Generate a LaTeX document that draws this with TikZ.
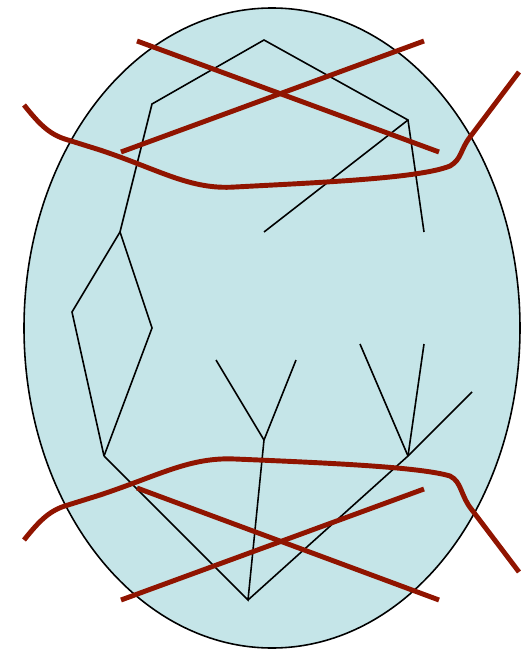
\documentclass[tikz,border=0pt]{standalone}
\usepackage{xcolor}
\definecolor{cellblue}{HTML}{C5E5E8}
\definecolor{cutred}{HTML}{901400}

\begin{document}
\begin{tikzpicture}[
  x=0.02cm, y=-0.02cm,
  edge/.style={draw=black, line width=0.9pt},
  cut/.style={draw=cutred, line width=2.8pt}
]
  \useasboundingbox (0,0) rectangle (521,649);
  \draw[fill=cellblue, line width=0.9pt] (272,328) ellipse [x radius=248, y radius=320];

  % vertices of the tree
  \coordinate (top) at (264,40);
  \coordinate (ul) at (152,104);
  \coordinate (ur) at (408,120);
  \coordinate (urleaf1) at (264,232);
  \coordinate (urleaf2) at (424,232);
  \coordinate (ml) at (120,232);
  \coordinate (dl) at (72,312);
  \coordinate (dr) at (152,328);
  \coordinate (ll) at (104,456);
  \coordinate (bot) at (248,600);
  \coordinate (mid) at (264,440);
  \coordinate (midleaf1) at (216,360);
  \coordinate (midleaf2) at (296,360);
  \coordinate (lr) at (408,456);
  \coordinate (lrleaf1) at (360,344);
  \coordinate (lrleaf2) at (424,344);
  \coordinate (lrleaf3) at (472,392);

  \draw[edge] (ml) -- (ul) -- (top) -- (ur) -- (urleaf2);
  \draw[edge] (ur) -- (urleaf1);
  \draw[edge] (ml) -- (dl) -- (ll);
  \draw[edge] (ml) -- (dr) -- (ll);
  \draw[edge] (ll) -- (bot) -- (mid) -- (midleaf1);
  \draw[edge] (mid) -- (midleaf2);
  \draw[edge] (bot) -- (lr) -- (lrleaf3);
  \draw[edge] (lr) -- (lrleaf1);
  \draw[edge] (lr) -- (lrleaf2);

  % cuts
  \draw[cut] (137,41) -- (439,152);
  \draw[cut] (424,41) -- (121,152);
  \draw[cut] (24,105) .. controls (40,125) and (50,135) .. (68,140) -- (100,150)
    .. controls (160,170) and (190,190) .. (235,187)
    .. controls (330,182) and (420,178) .. (450,166)
    .. controls (462,159) and (460,150) .. (470,137) -- (519,72);
  \draw[cut] (137,488) -- (439,600);
  \draw[cut] (424,489) -- (121,600);
  \draw[cut] (24,540) .. controls (40,520) and (50,510) .. (68,505) -- (100,495)
    .. controls (160,475) and (190,457) .. (235,459)
    .. controls (330,463) and (420,467) .. (450,476)
    .. controls (462,482) and (460,495) .. (472,510) -- (519,572);
\end{tikzpicture}
\end{document}
